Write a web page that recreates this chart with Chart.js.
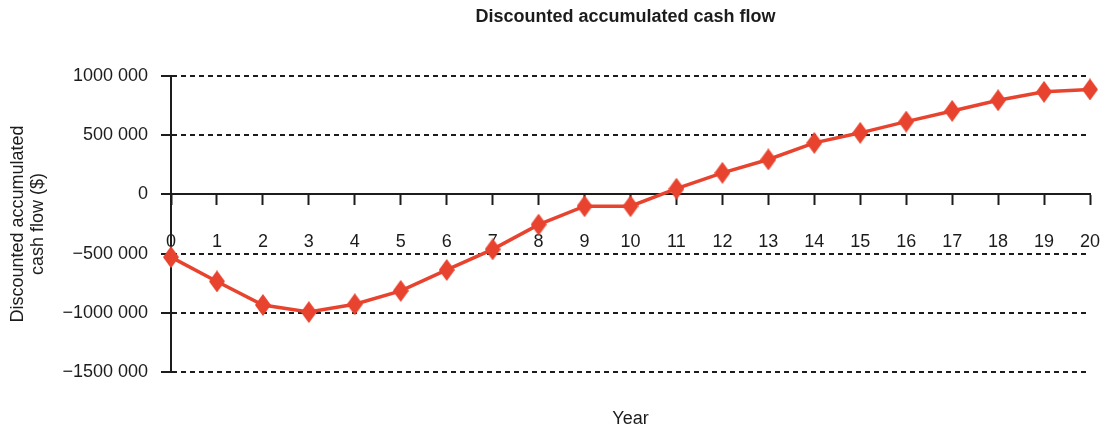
<!DOCTYPE html>
<html>
<head>
<meta charset="utf-8">
<script src="https://cdn.jsdelivr.net/npm/chart.js@4"></script>
<style>
  html, body { margin: 0; padding: 0; background: #ffffff; }
  #c { display: block; }
</style>
</head>
<body>
<canvas id="c" width="1110" height="430"></canvas>
<script>
const chartTitle = 'Discounted accumulated cash flow';
const xTitle = 'Year';
const yTitle = ['Discounted accumulated', 'cash flow ($)'];
const years = [0, 1, 2, 3, 4, 5, 6, 7, 8, 9, 10, 11, 12, 13, 14, 15, 16, 17, 18, 19, 20];
const cashFlow = [-530000, -735000, -934000, -994000, -928000, -815000, -638000, -464000, -255000, -100000, -100000, 48000, 182000, 295000, 435000, 520000, 615000, 705000, 795000, 866000, 886000];
const yTickValues = [1000000, 500000, 0, -500000, -1000000, -1500000];
const yTickLabels = ['1000 000', '500 000', '0', '\u2212500 000', '\u22121000 000', '\u22121500 000'];

const RED = '#E8432F';
const INK = '#1c1c1c';
const FONT = '"Liberation Sans", Arial, Helvetica, sans-serif';

function diamond(w, h, color) {
  const cv = document.createElement('canvas');
  cv.width = w; cv.height = h;
  const g = cv.getContext('2d');
  g.fillStyle = color;
  g.beginPath();
  g.moveTo(w / 2, 0);
  g.lineTo(w, h / 2);
  g.lineTo(w / 2, h);
  g.lineTo(0, h / 2);
  g.closePath();
  g.fill();
  return cv;
}
const marker = diamond(16, 22, RED);

const titlePlugin = {
  id: 'centeredTitle',
  afterDraw(chart) {
    const { ctx, chartArea } = chart;
    ctx.save();
    ctx.font = 'bold 18px ' + FONT;
    ctx.fillStyle = INK;
    ctx.textAlign = 'center';
    ctx.textBaseline = 'middle';
    ctx.fillText(chartTitle, (chartArea.left + chartArea.right) / 2 - 5, 17);
    ctx.restore();
  }
};

const noSidePad = (s) => { s.paddingLeft = 0; s.paddingRight = 0; };

new Chart(document.getElementById('c'), {
  type: 'line',
  data: {
    datasets: [{
      data: years.map((x, i) => ({ x: x, y: cashFlow[i] })),
      borderColor: RED,
      backgroundColor: RED,
      borderWidth: 3.5,
      pointStyle: marker,
      pointRadius: 9,
      tension: 0,
      clip: false,
      xAxisID: 'x',
      yAxisID: 'y'
    }]
  },
  options: {
    responsive: false,
    animation: false,
    layout: { padding: { top: 76, right: 20, bottom: 0, left: 0 } },
    plugins: { legend: { display: false }, title: { display: false }, tooltip: { enabled: false } },
    scales: {
      x: {
        type: 'linear',
        position: { y: 0 },
        min: 0, max: 20,
        afterFit: (s) => { s.height = 0; noSidePad(s); },
        afterBuildTicks: (s) => { s.ticks = years.map(v => ({ value: v })); },
        ticks: { color: INK, font: { family: FONT, size: 18 }, padding: 27, maxRotation: 0, autoSkip: false },
        grid: { drawOnChartArea: false, tickLength: 10, tickWidth: 2, color: INK },
        border: { display: true, color: INK, width: 2 }
      },
      xb: {
        type: 'linear',
        position: 'bottom',
        min: 0, max: 20,
        afterFit: (s) => { s.height = 58; noSidePad(s); },
        ticks: { display: false },
        grid: { display: false },
        border: { display: false },
        title: { display: true, text: xTitle, color: INK, font: { family: FONT, size: 18 }, padding: { top: 0, bottom: 0 } }
      },
      y: {
        type: 'linear',
        position: 'left',
        min: -1500000, max: 1000000,
        afterFit: (s) => { s.width = 171; s.paddingTop = 0; s.paddingBottom = 0; },
        afterBuildTicks: (s) => { s.ticks = yTickValues.map(v => ({ value: v })); },
        ticks: {
          color: INK,
          font: { family: FONT, size: 18 },
          padding: 13,
          callback: (v) => { const i = yTickValues.indexOf(v); return i >= 0 ? yTickLabels[i] : ''; }
        },
        grid: { color: INK, lineWidth: 2, tickLength: 10, tickWidth: 2, tickBorderDash: [] },
        border: { display: true, color: INK, width: 2, dash: [5, 4] },
        title: { display: true, text: yTitle, color: INK, font: { family: FONT, size: 18, lineHeight: 1.12 }, padding: { top: 8, bottom: 0 } }
      }
    }
  },
  plugins: [titlePlugin]
});
</script>
</body>
</html>
